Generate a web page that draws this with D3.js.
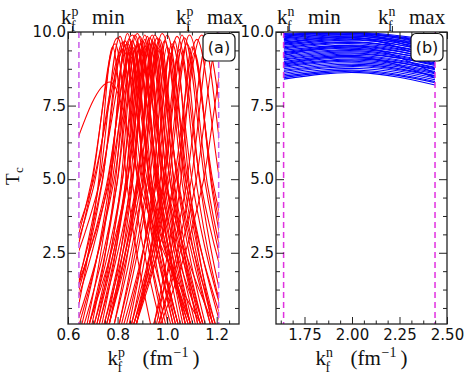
<!DOCTYPE html>
<html>
<head>
<meta charset="utf-8">
<script src="https://cdn.jsdelivr.net/npm/d3@7"></script>
<style>
body{margin:0;background:#fff;}
text{fill:#111;}
</style>
</head>
<body>
<script>
(function(){

//T axis shared by both panels
var tDomain = [0.08, 10];
var tMajor = [2.5, 5.0, 7.5, 10.0];
var tMinor = [0.625, 1.25, 1.875, 3.125, 3.75, 4.375, 5.625, 6.25, 6.875, 8.125, 8.75, 9.375];

//proton panel (a)
var pDomain = [0.6, 1.29];
var pRange = [0.644, 1.208];          //k_f^p min / max
var pMajor = [0.6, 0.8, 1.0, 1.2];
var pTopTicks = [0.616, 1.084];
//each curve: [left foot k, left half-max k, peak k, peak Tc, right half-max k, right foot k]
var redCurves = [
    [0.150, 0.534, 0.77, 8.30, 0.912, 1.142],
    [0.468, 0.698, 0.84, 9.60, 0.934, 1.088],
    [0.521, 0.694, 0.80, 9.80, 0.883, 1.017],
    [0.510, 0.702, 0.82, 9.40, 0.926, 1.099],
    [0.542, 0.696, 0.79, 9.60, 0.861, 0.976],
    [0.519, 0.730, 0.86, 9.90, 0.966, 1.139],
    [0.582, 0.736, 0.83, 9.70, 0.913, 1.047],
    [0.593, 0.727, 0.81, 9.85, 0.881, 0.996],
    [0.570, 0.762, 0.88, 9.50, 0.998, 1.190],
    [0.602, 0.756, 0.85, 9.30, 0.944, 1.098],
    [0.625, 0.721, 0.78, 9.50, 0.839, 0.935],
    [0.654, 0.769, 0.84, 9.95, 0.911, 1.026],
    [0.643, 0.777, 0.86, 9.70, 0.931, 1.046],
    [0.684, 0.799, 0.87, 9.90, 0.953, 1.087],
    [0.663, 0.797, 0.88, 9.60, 0.939, 1.035],
    [0.704, 0.819, 0.89, 9.85, 0.961, 1.076],
    [0.683, 0.817, 0.90, 9.70, 0.994, 1.148],
    [0.724, 0.839, 0.91, 9.90, 0.981, 1.096],
    [0.703, 0.837, 0.92, 9.50, 0.991, 1.106],
    [0.744, 0.859, 0.93, 9.80, 1.013, 1.147],
    [0.723, 0.857, 0.94, 9.90, 1.011, 1.126],
    [0.764, 0.879, 0.95, 9.60, 1.021, 1.136],
    [0.743, 0.877, 0.96, 9.80, 1.043, 1.177],
    [0.784, 0.899, 0.97, 9.40, 1.029, 1.125],
    [0.763, 0.897, 0.98, 9.95, 1.074, 1.228],
    [0.715, 0.811, 0.87, 9.40, 0.929, 1.025],
    [0.735, 0.831, 0.89, 9.60, 0.961, 1.076],
    [0.765, 0.861, 0.92, 9.85, 0.979, 1.075],
    [0.695, 0.791, 0.85, 9.75, 0.909, 1.005],
    [0.675, 0.771, 0.83, 9.55, 0.889, 0.985],
    [0.785, 0.881, 0.94, 9.70, 0.999, 1.095],
    [0.805, 0.901, 0.96, 9.50, 1.031, 1.146],
    [0.804, 0.919, 0.99, 9.70, 1.061, 1.176],
    [0.814, 0.929, 1.00, 9.90, 1.083, 1.217],
    [0.834, 0.949, 1.02, 9.60, 1.103, 1.237],
    [0.823, 0.957, 1.04, 9.85, 1.134, 1.288],
    [0.864, 0.979, 1.05, 9.40, 1.121, 1.236],
    [0.853, 0.987, 1.07, 9.80, 1.153, 1.287],
    [0.873, 1.007, 1.09, 9.90, 1.184, 1.338],
    [0.945, 1.041, 1.10, 9.50, 1.183, 1.317],
    [0.872, 1.026, 1.12, 9.75, 1.214, 1.368],
    [0.861, 1.034, 1.14, 9.90, 1.234, 1.388],
    [0.943, 1.077, 1.16, 9.60, 1.254, 1.408],
    [0.963, 1.097, 1.18, 9.95, 1.286, 1.459],
    [0.962, 1.116, 1.21, 9.80, 1.316, 1.489],
    [0.971, 1.144, 1.25, 9.70, 1.368, 1.560],
    [0.855, 0.951, 1.01, 9.30, 1.081, 1.196],
    [0.875, 0.971, 1.03, 9.70, 1.089, 1.185],
    [0.874, 0.989, 1.06, 9.90, 1.131, 1.246],
    [0.955, 1.051, 1.11, 9.30, 1.181, 1.296],
    [0.603, 0.737, 0.82, 9.65, 0.903, 1.037],
    [0.632, 0.786, 0.88, 9.95, 0.963, 1.097],
    [0.714, 0.829, 0.90, 9.40, 0.959, 1.055],
    [0.682, 0.836, 0.93, 9.60, 1.001, 1.116],
    [0.764, 0.879, 0.95, 9.90, 1.044, 1.198],
    [0.753, 0.887, 0.97, 9.75, 1.041, 1.156],
    [0.581, 0.754, 0.86, 9.50, 0.931, 1.046],
    [0.863, 0.997, 1.08, 9.60, 1.163, 1.297],
    [0.845, 0.941, 1.00, 9.50, 1.071, 1.186],
    [0.755, 0.851, 0.91, 9.75, 0.969, 1.065]
];

//neutron panel (b)
var nDomain = [1.6, 2.5];
var nRange = [1.64, 2.437];           //k_f^n min / max
var nMajor = [1.75, 2.0, 2.25, 2.5];
var nMinor = [1.625, 1.6875, 1.8125, 1.875, 1.9375, 2.0625, 2.125, 2.1875, 2.3125, 2.375, 2.4375];
var nTopTicks = [1.66, 2.21];
var blueK = [1.64, 2.04, 2.437];
//each band: Tc at blueK
var blueBands = [
    [9.95, 9.99, 9.72], [9.92, 9.97, 9.62], [9.90, 9.96, 9.68], [9.86, 9.95, 9.55],
    [9.85, 9.95, 9.20], [9.83, 9.93, 9.60], [9.80, 9.90, 9.48], [9.77, 9.90, 9.52],
    [9.74, 9.86, 9.42], [9.70, 9.85, 9.46], [9.66, 9.80, 9.36], [9.63, 9.78, 9.40],
    [9.60, 9.80, 9.00], [9.58, 9.74, 9.30], [9.55, 9.72, 9.33], [9.50, 9.66, 9.25],
    [9.46, 9.64, 9.22], [9.42, 9.60, 9.15], [9.38, 9.55, 9.18], [9.33, 9.52, 9.08],
    [9.30, 9.48, 9.10], [9.26, 9.44, 9.00], [9.22, 9.40, 9.05], [9.20, 9.50, 8.60],
    [9.17, 9.36, 8.95], [9.13, 9.32, 8.92], [9.08, 9.28, 8.86], [9.05, 9.25, 8.90],
    [9.00, 9.20, 8.80], [8.96, 9.16, 8.78], [8.92, 9.12, 8.72], [8.90, 9.15, 8.45],
    [8.88, 9.08, 8.75], [8.84, 9.04, 8.66], [8.80, 9.00, 8.62], [8.75, 8.95, 8.58],
    [8.70, 8.90, 8.52], [8.66, 8.86, 8.50], [8.60, 8.82, 8.44], [8.55, 8.76, 8.38],
    [8.50, 8.70, 8.32], [8.45, 8.66, 8.28], [8.40, 8.62, 8.20]
];

var yTop = 32, yBot = 324;
var serif = "'Liberation Serif', serif";
var sans = "'DejaVu Sans', sans-serif";

var svg = d3.select("body").append("svg")
    .attr("width", 470)
    .attr("height", 381);

var y = d3.scaleLinear().domain(tDomain).range([yBot, yTop]);

//k with sub f and a superscript
function kLabel(g, x0, base, fs, sup){
    g.append("text").attr("x", x0).attr("y", base)
        .style("font-family", serif).style("font-size", fs + "px").text("k");
    g.append("text").attr("x", x0 + 0.5 * fs).attr("y", base - 0.36 * fs)
        .style("font-family", serif).style("font-size", (0.66 * fs) + "px").text(sup);
    g.append("text").attr("x", x0 + 0.48 * fs).attr("y", base + 0.32 * fs)
        .style("font-family", serif).style("font-size", (0.66 * fs) + "px").text("f");
}

function drawPanel(p){
    var x = d3.scaleLinear().domain(p.domain).range([p.left, p.right]);
    var g = svg.append("g");

    //clip curves to the k range
    svg.append("clipPath").attr("id", "clip-" + p.id)
        .append("rect")
        .attr("x", x(p.kRange[0]))
        .attr("y", yTop)
        .attr("width", x(p.kRange[1]) - x(p.kRange[0]))
        .attr("height", yBot - yTop);

    var curves = g.append("g").attr("clip-path", "url(#clip-" + p.id + ")");
    curves.selectAll("path")
        .data(p.lines)
        .enter()
        .append("path")
        .attr("d", p.line.x(function(d){ return x(d[0]); }).y(function(d){ return y(d[1]); }))
        .attr("fill", "none")
        .attr("stroke", p.color)
        .attr("stroke-width", 1.1);

    //k min / max markers
    g.selectAll(".kline")
        .data(p.kRange)
        .enter()
        .append("line")
        .attr("x1", function(d){ return x(d); })
        .attr("x2", function(d){ return x(d); })
        .attr("y1", yTop)
        .attr("y2", yBot)
        .attr("stroke", p.dashColor)
        .attr("stroke-width", 1.5)
        .attr("stroke-dasharray", "6,4");

    //ticks, all inward
    g.append("g").attr("transform", "translate(0," + yBot + ")")
        .call(d3.axisBottom(x).tickValues(p.major).tickSize(-7).tickPadding(5)
            .tickFormat(p.fmt));
    g.append("g").attr("transform", "translate(0," + yBot + ")")
        .call(d3.axisBottom(x).tickValues(p.minor).tickSize(-3.5).tickFormat(""));
    g.append("g").attr("transform", "translate(0," + yTop + ")")
        .call(d3.axisTop(x).tickValues(p.major).tickSize(-7).tickFormat(""));
    g.append("g").attr("transform", "translate(0," + yTop + ")")
        .call(d3.axisTop(x).tickValues(p.minor).tickSize(-3.5).tickFormat(""));
    g.append("g").attr("transform", "translate(0," + yTop + ")")
        .call(d3.axisTop(x).tickValues(p.topTicks).tickSize(6).tickFormat(""));
    g.append("g").attr("transform", "translate(" + p.left + ",0)")
        .call(d3.axisLeft(y).tickValues(tMajor).tickSize(-8).tickPadding(2)
            .tickFormat(d3.format(".1f")));
    g.append("g").attr("transform", "translate(" + p.left + ",0)")
        .call(d3.axisLeft(y).tickValues(tMinor).tickSize(-4).tickFormat(""));
    g.append("g").attr("transform", "translate(" + p.right + ",0)")
        .call(d3.axisRight(y).tickValues(tMajor).tickSize(-8).tickFormat(""));
    g.append("g").attr("transform", "translate(" + p.right + ",0)")
        .call(d3.axisRight(y).tickValues(tMinor).tickSize(-4).tickFormat(""));

    g.selectAll(".domain").remove();
    g.selectAll(".tick line").attr("stroke", "#222").attr("stroke-width", 1);
    g.selectAll(".tick text").style("font-family", sans).style("font-size", "15px")
        .attr("fill", "#111");

    //frame
    g.append("rect")
        .attr("x", p.left).attr("y", yTop)
        .attr("width", p.right - p.left).attr("height", yBot - yTop)
        .attr("fill", "none").attr("stroke", "#222").attr("stroke-width", 1.3);

    //panel tag box
    g.append("rect")
        .attr("x", p.right - 36).attr("y", 33.5)
        .attr("width", 32).attr("height", 27.5)
        .attr("rx", 5)
        .attr("fill", "#fff").attr("stroke", "#111").attr("stroke-width", 1.2);
    g.append("text")
        .attr("x", p.right - 20).attr("y", 53)
        .attr("text-anchor", "middle")
        .style("font-family", sans).style("font-size", "16px")
        .text(p.tag);

    //top labels
    kLabel(g, p.minLabel, 24, 21, p.sup);
    g.append("text").attr("x", p.minLabel + 31).attr("y", 24)
        .style("font-family", serif).style("font-size", "21px").text("min");
    kLabel(g, p.maxLabel, 24, 21, p.sup);
    g.append("text").attr("x", p.maxLabel + 31).attr("y", 24)
        .style("font-family", serif).style("font-size", "21px").text("max");

    //bottom label  k_f (fm^-1)
    var x0 = (p.left + p.right) / 2 - 46;
    kLabel(g, x0, 365, 21, p.sup);
    g.append("text").attr("x", x0 + 35).attr("y", 365)
        .style("font-family", serif).style("font-size", "21px").text("(fm");
    g.append("text").attr("x", x0 + 66).attr("y", 357)
        .style("font-family", serif).style("font-size", "14px").text("\u22121");
    g.append("text").attr("x", x0 + 85).attr("y", 365)
        .style("font-family", serif).style("font-size", "21px").text(")");
}

//feet sit at Tc = 0, shoulders at half of the peak
var redLines = redCurves.map(function(c){
    return [[c[0], 0], [c[1], c[3] / 2], [c[2], c[3]], [c[4], c[3] / 2], [c[5], 0]];
});
var blueLines = blueBands.map(function(b){
    return blueK.map(function(k, i){ return [k, b[i]]; });
});

drawPanel({
    id: "a", tag: "(a)", left: 68, right: 239, domain: pDomain, kRange: pRange,
    major: pMajor,
    minor: d3.scaleLinear().domain(pDomain).ticks(14).filter(function(d){ return pMajor.indexOf(+d.toFixed(2)) < 0; }),
    topTicks: pTopTicks,
    fmt: d3.format(".1f"),
    lines: redLines, line: d3.line().curve(d3.curveMonotoneX),
    color: "#ff0000", dashColor: "#c85ce8",
    sup: "p", minLabel: 61, maxLabel: 176
});

drawPanel({
    id: "b", tag: "(b)", left: 276, right: 447, domain: nDomain, kRange: nRange,
    major: nMajor, minor: nMinor,
    topTicks: nTopTicks,
    fmt: d3.format(".2f"),
    lines: blueLines, line: d3.line().curve(d3.curveNatural),
    color: "#0000ff", dashColor: "#e030e0",
    sup: "n", minLabel: 277, maxLabel: 378
});

//y label T_c
var yl = svg.append("g").attr("transform", "translate(19,185) rotate(-90)");
yl.append("text").attr("x", 0).attr("y", 0)
    .style("font-family", serif).style("font-size", "19px").text("T");
yl.append("text").attr("x", 12).attr("y", 4)
    .style("font-family", serif).style("font-size", "13px").text("c");

})();
</script>
</body>
</html>
